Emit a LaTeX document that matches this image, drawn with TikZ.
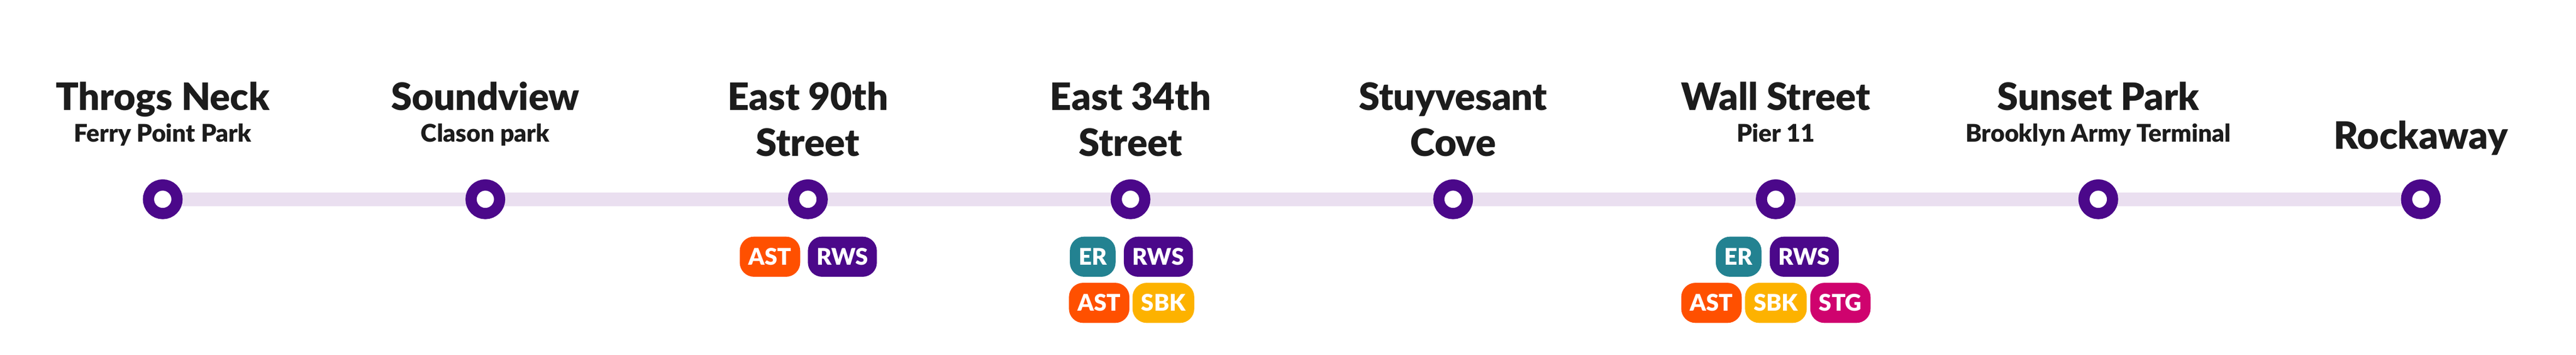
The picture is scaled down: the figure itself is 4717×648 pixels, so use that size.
\documentclass[tikz,border=0pt]{standalone}
\usepackage{fontspec}
\setmainfont{Lato}
\newfontfamily\blk{Lato Black}
\usetikzlibrary{calc}
\definecolor{ink}{HTML}{1C1C1C}
\definecolor{ringc}{HTML}{4B088A}
\definecolor{trackc}{HTML}{EADFF0}
\definecolor{astc}{HTML}{FF5000}
\definecolor{erc}{HTML}{238291}
\definecolor{sbkc}{HTML}{FDB200}
\definecolor{stgc}{HTML}{CF036E}
\begin{document}
\begin{tikzpicture}[x=1pt,y=-1pt,
  station/.style={circle,draw=ringc,fill=white,line width=20.5pt,minimum size=52.3pt,inner sep=0pt},
  ttl/.style={anchor=base,text=ink,inner sep=0pt,font=\fontsize{69}{80}\selectfont\blk},
  subt/.style={anchor=base,text=ink,inner sep=0pt,font=\fontsize{44.5}{50}\selectfont\blk},
  badge/.style={fill=#1,rounded corners=26pt,text=white,font=\fontsize{42}{50}\selectfont\blk,
    minimum height=73.3pt,text height=30.1pt,text depth=0pt,inner xsep=16pt,inner ysep=0pt},
  track/.style={draw=trackc,line width=24.6pt}
]
\fill[white] (0,0) rectangle (4717,648);
\useasboundingbox (0,0) rectangle (4717,648);
% station positions
\foreach \i in {0,...,7} {\coordinate (s\i) at ({298+590.7*\i},364.3);}
\draw[track] (s0) -- (s7);
\foreach \i in {0,...,7} {\node[station] (st\i) at (s\i) {};}
% titles
\node[ttl] (t0) at (298,201.7) {Throgs Neck};
\node[subt] (u0) at (298,259) {Ferry Point Park};
\node[ttl] (t1) at (888.7,201.7) {Soundview};
\node[subt] (u1) at (888.7,259) {Clason park};
\node[ttl] (t2) at (1479.4,201.7) {East 90th};
\node[ttl] (v2) at (1479.4,285.3) {Street};
\node[ttl] (t3) at (2070.1,201.7) {East 34th};
\node[ttl] (v3) at (2070.1,285.3) {Street};
\node[ttl] (t4) at (2660.8,201.7) {Stuyvesant};
\node[ttl] (v4) at (2660.8,285.3) {Cove};
\node[ttl] (t5) at (3251.5,201.7) {Wall Street};
\node[subt] (u5) at (3251.5,259) {Pier 11};
\node[ttl] (t6) at (3842.2,201.7) {Sunset Park};
\node[subt] (u6) at (3842.2,259) {Brooklyn Army Terminal};
\node[ttl] (t7) at (4432.9,272.7) {Rockaway};
% badges
\node[badge=astc]  (b2a) at (1409.9,469.3) {AST};
\node[badge=ringc] (b2b) at (1542.5,469.3) {RWS};
\node[badge=erc]   (b3a) at (2000.9,469.3) {ER};
\node[badge=ringc] (b3b) at (2121.1,469.3) {RWS};
\node[badge=astc]  (b3c) at (2012.7,553.7) {AST};
\node[badge=sbkc]  (b3d) at (2130.3,553.7) {SBK};
\node[badge=erc]   (b5a) at (3183.7,469.3) {ER};
\node[badge=ringc] (b5b) at (3303.8,469.3) {RWS};
\node[badge=astc]  (b5c) at (3133.9,553.7) {AST};
\node[badge=sbkc]  (b5d) at (3251.9,553.7) {SBK};
\node[badge=stgc]  (b5e) at (3370,553.7) {STG};
\end{tikzpicture}
\end{document}
